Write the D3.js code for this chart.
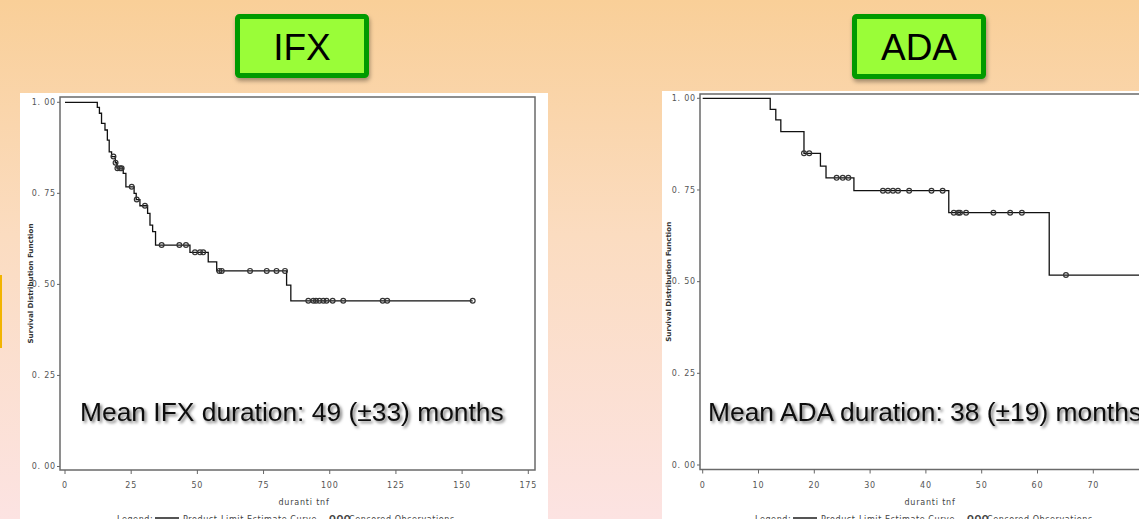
<!DOCTYPE html>
<html>
<head>
<meta charset="utf-8">
<script src="https://cdn.jsdelivr.net/npm/d3@7"></script>
<style>
  body { margin: 0; padding: 0; overflow: hidden; }
  svg { display: block; }
  .tick-label { font-family: "DejaVu Sans", sans-serif; font-size: 8px; fill: #555; letter-spacing: 0.8px; }
  .ytitle { font-family: "DejaVu Sans Condensed", "DejaVu Sans", sans-serif; font-size: 7px; font-weight: bold; fill: #333; }
  .xtitle { font-family: "DejaVu Sans", sans-serif; font-size: 8px; fill: #444; letter-spacing: 0.8px; }
  .legend { font-family: "DejaVu Sans", sans-serif; font-size: 8px; fill: #444; letter-spacing: 0.6px; }
  .mean { font-family: "Liberation Sans", Arial, sans-serif; font-size: 26.4px; fill: #111; }
  .title { font-family: "Liberation Sans", Arial, sans-serif; font-size: 37px; fill: #000; }
</style>
</head>
<body>
<script>
// IFX: curve drops to s at time t; censored marks at [t, s]
var ifx_steps = [[0, 1], [12.2, 0.986], [13.0, 0.970], [13.8, 0.942], [15.1, 0.924], [16.0, 0.896],
                 [16.7, 0.864], [17.6, 0.851], [19.0, 0.834], [19.6, 0.819], [22.0, 0.805], [23.0, 0.768],
                 [26.1, 0.750], [26.9, 0.733], [28.3, 0.716], [31.2, 0.695], [32.1, 0.663], [33.1, 0.645],
                 [34.2, 0.608], [47.2, 0.588], [54.1, 0.562], [57.3, 0.537], [83.7, 0.498], [85.3, 0.455]];
var ifx_end = 154;
var ifx_censored = [[18.3, 0.851], [19.1, 0.834], [19.8, 0.819], [20.8, 0.819], [21.4, 0.819],
                    [25.2, 0.768], [27.1, 0.733], [30.2, 0.716], [36.5, 0.608], [43.2, 0.608],
                    [45.7, 0.608], [49.1, 0.588], [51.0, 0.588], [52.2, 0.588], [58.3, 0.537],
                    [59.2, 0.537], [69.9, 0.537], [76.2, 0.537], [79.9, 0.537], [83.1, 0.537],
                    [91.9, 0.455], [93.8, 0.455], [94.8, 0.455], [96.1, 0.455], [97.6, 0.455],
                    [98.8, 0.455], [101.1, 0.455], [105.1, 0.455], [120.0, 0.455], [121.7, 0.455],
                    [154.0, 0.455]];

// ADA
var ada_steps = [[0, 1], [12.1, 0.970], [13.1, 0.941], [14.0, 0.909], [18.15, 0.850], [21.1, 0.815],
                 [22.1, 0.783], [27.1, 0.748], [44.1, 0.688], [62.1, 0.518]];
var ada_end = 82;
var ada_censored = [[18.15, 0.850], [19.1, 0.850], [24.0, 0.783], [25.1, 0.783], [26.1, 0.783],
                    [32.3, 0.748], [33.2, 0.748], [34.1, 0.748], [35.0, 0.748], [37.0, 0.748],
                    [41.0, 0.748], [43.0, 0.748], [45.0, 0.688], [45.8, 0.688], [46.1, 0.688],
                    [47.2, 0.688], [52.1, 0.688], [55.1, 0.688], [57.2, 0.688], [65.1, 0.518]];

var ifx_ticks = [0, 25, 50, 75, 100, 125, 150, 175];
var ada_ticks = [0, 10, 20, 30, 40, 50, 60, 70, 80];
var y_ticks = [0, 0.25, 0.5, 0.75, 1];

var W = 1139, H = 519;

var svg = d3.select("body").append("svg")
    .attr("width", W)
    .attr("height", H);

var defs = svg.append("defs");
var bg = defs.append("linearGradient").attr("id", "bg")
    .attr("x1", 0).attr("y1", 0).attr("x2", 0).attr("y2", 1);
bg.append("stop").attr("offset", "0%").attr("stop-color", "#f9cf98");
bg.append("stop").attr("offset", "45%").attr("stop-color", "#fbdcc0");
bg.append("stop").attr("offset", "100%").attr("stop-color", "#fce3e2");

var sh = defs.append("filter").attr("id", "txtshadow")
    .attr("x", "-5%").attr("y", "-30%").attr("width", "110%").attr("height", "160%");
sh.append("feDropShadow").attr("dx", 2).attr("dy", 2).attr("stdDeviation", 1.6)
    .attr("flood-color", "#000").attr("flood-opacity", 0.55);

var bsh = defs.append("filter").attr("id", "boxshadow")
    .attr("x", "-10%").attr("y", "-20%").attr("width", "120%").attr("height", "150%");
bsh.append("feDropShadow").attr("dx", 1).attr("dy", 3).attr("stdDeviation", 2)
    .attr("flood-color", "#000").attr("flood-opacity", 0.35);

svg.append("rect").attr("width", W).attr("height", H).attr("fill", "url(#bg)");

// little amber marker on the left edge
svg.append("rect").attr("x", 0).attr("y", 275).attr("width", 2).attr("height", 73).attr("fill", "#f2b400");

function panel(cfg) {
    var g = svg.append("g");

    g.append("rect")
        .attr("x", cfg.panel[0]).attr("y", cfg.panel[1])
        .attr("width", cfg.panel[2]).attr("height", cfg.panel[3])
        .attr("fill", "#fff");

    var x = d3.scaleLinear().domain(cfg.xdomain).range(cfg.xrange);
    var y = d3.scaleLinear().domain([0, 1]).range(cfg.yrange);

    var clip = "clip" + cfg.name;
    defs.append("clipPath").attr("id", clip)
        .append("rect").attr("x", cfg.panel[0]).attr("y", cfg.panel[1])
        .attr("width", cfg.panel[2]).attr("height", cfg.panel[3]);
    var inner = g.append("g").attr("clip-path", "url(#" + clip + ")");

    // frame
    inner.append("rect")
        .attr("x", cfg.frame[0]).attr("y", cfg.frame[1])
        .attr("width", cfg.frame[2] - cfg.frame[0]).attr("height", cfg.frame[3] - cfg.frame[1])
        .attr("fill", "none").attr("stroke", "#6a6a6a").attr("stroke-width", 1.5);

    // y ticks
    inner.selectAll(".yt").data(y_ticks).enter().append("line")
        .attr("x1", cfg.frame[0] - 3).attr("x2", cfg.frame[0])
        .attr("y1", function(d) { return y(d); }).attr("y2", function(d) { return y(d); })
        .attr("stroke", "#666");
    inner.selectAll(".ytl").data(y_ticks).enter().append("text")
        .attr("class", "tick-label")
        .attr("text-anchor", "end")
        .attr("x", cfg.frame[0] - 4)
        .attr("y", function(d) { return y(d); })
        .attr("dy", "0.35em")
        .text(function(d) { return d3.format(".2f")(d).replace(".", ". "); });

    // x ticks
    inner.selectAll(".xt").data(cfg.ticks).enter().append("line")
        .attr("x1", function(d) { return x(d); }).attr("x2", function(d) { return x(d); })
        .attr("y1", cfg.frame[3]).attr("y2", cfg.frame[3] + 4)
        .attr("stroke", "#666");
    inner.selectAll(".xtl").data(cfg.ticks).enter().append("text")
        .attr("class", "tick-label")
        .attr("text-anchor", "middle")
        .attr("x", function(d) { return x(d); })
        .attr("y", cfg.frame[3] + 18)
        .text(function(d) { return d; });

    // axis titles
    inner.append("text").attr("class", "ytitle")
        .attr("transform", "translate(" + cfg.ytitleX + "," + ((cfg.frame[1] + cfg.frame[3]) / 2) + ") rotate(-90)")
        .attr("text-anchor", "middle")
        .attr("textLength", 120).attr("lengthAdjust", "spacingAndGlyphs")
        .text("Survival Distribution Function");

    inner.append("text").attr("class", "xtitle")
        .attr("text-anchor", "middle")
        .attr("x", cfg.xtitleX).attr("y", 505)
        .text("duranti tnf");

    // legend (cut by bottom edge, as in the source slide)
    var lg = inner.append("g").attr("transform", "translate(" + cfg.legendX + ",522)");
    lg.append("text").attr("class", "legend").attr("x", 0).attr("y", 0).text("Legend:");
    lg.append("line").attr("x1", 38).attr("x2", 62).attr("y1", -4).attr("y2", -4)
        .attr("stroke", "#555").attr("stroke-width", 2);
    lg.append("text").attr("class", "legend").attr("x", 66).attr("y", 0)
        .text("Product-Limit Estimate Curve");
    lg.append("text").attr("class", "legend").attr("x", 212).attr("y", 0)
        .attr("font-weight", "bold").text("OOO");
    lg.append("text").attr("class", "legend").attr("x", 232).attr("y", 0)
        .text("Censored Observations");

    // survival curve
    var pts = cfg.steps.concat([[cfg.end, cfg.steps[cfg.steps.length - 1][1]]]);
    var line = d3.line()
        .x(function(d) { return x(d[0]); })
        .y(function(d) { return y(d[1]); })
        .curve(d3.curveStepAfter);
    inner.append("path").datum(pts)
        .attr("d", line)
        .attr("fill", "none").attr("stroke", "#111").attr("stroke-width", 1.3);

    inner.selectAll(".cens").data(cfg.censored).enter().append("circle")
        .attr("cx", function(d) { return x(d[0]); })
        .attr("cy", function(d) { return y(d[1]); })
        .attr("r", 2.4)
        .attr("fill", "none").attr("stroke", "#333").attr("stroke-width", 1.2);

    // mean duration caption
    g.append("text").attr("class", "mean")
        .attr("x", cfg.meanX).attr("y", 421)
        .attr("filter", "url(#txtshadow)")
        .text(cfg.mean);

    // title box
    g.append("rect")
        .attr("x", cfg.box[0] + 2.5).attr("y", cfg.box[1] + 2.5)
        .attr("width", cfg.box[2] - 5).attr("height", cfg.box[3] - 5)
        .attr("rx", 2)
        .attr("fill", "#9afd38").attr("stroke", "#009a00").attr("stroke-width", 5)
        .attr("filter", "url(#boxshadow)");
    g.append("text").attr("class", "title")
        .attr("text-anchor", "middle")
        .attr("x", cfg.box[0] + cfg.box[2] / 2).attr("y", 60)
        .text(cfg.name);
}

panel({
    name: "IFX",
    panel: [20, 93, 528, 426],
    frame: [60, 97, 535, 470],
    xdomain: [0, 175], xrange: [65, 528.3],
    yrange: [466.5, 102.3],
    ticks: ifx_ticks,
    steps: ifx_steps, end: ifx_end, censored: ifx_censored,
    ytitleX: 33, xtitleX: 304, legendX: 117,
    meanX: 80,
    mean: "Mean IFX duration: 49 (\u00B133) months",
    box: [235, 14, 134, 64]
});

panel({
    name: "ADA",
    panel: [662, 91, 477, 428],
    frame: [700, 94, 1162, 469.5],
    xdomain: [0, 80], xrange: [702.7, 1149.1],
    yrange: [465, 98.3],
    ticks: ada_ticks,
    steps: ada_steps, end: ada_end, censored: ada_censored,
    ytitleX: 671, xtitleX: 930, legendX: 755,
    meanX: 708,
    mean: "Mean ADA duration: 38 (\u00B119) months",
    box: [852, 14, 134, 65]
});
</script>
</body>
</html>
